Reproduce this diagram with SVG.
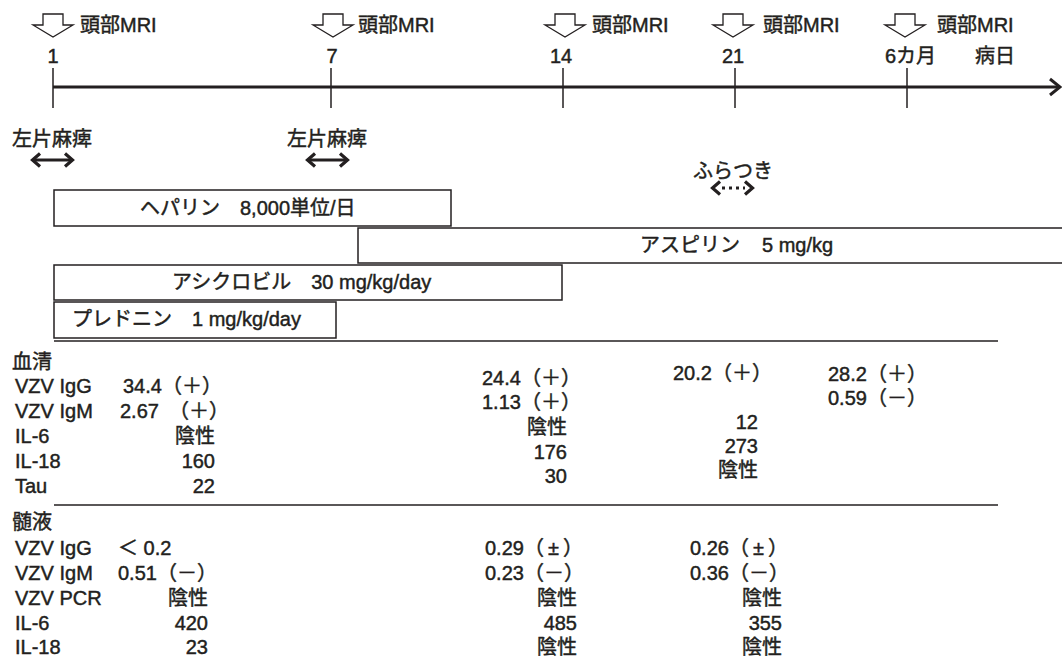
<svg xmlns="http://www.w3.org/2000/svg" width="1062" height="658" viewBox="0 0 1062 658">
<style>
text{font-family:"Liberation Sans","Noto Sans CJK JP",sans-serif;font-size:20px;fill:#231f20;stroke:#231f20;stroke-width:0.45px}
.r{text-anchor:end}
.m{text-anchor:middle}
.ln{stroke:#231f20;fill:none}
.box{fill:#fff;stroke:#231f20;stroke-width:1.5}
.mri{fill:#fff;stroke:#231f20;stroke-width:1.3;stroke-linejoin:miter}
.dbl{stroke:#231f20;stroke-width:3.2;fill:none;stroke-linecap:butt}
</style>
<defs>
<polygon id="mriArrow" class="mri" points="-10,0 10,0 10,11 20,11 0,23 -20,11 -10,11"/>
</defs>
<rect width="1062" height="658" fill="#fff"/>

<g id="connectors">
<line class="ln" x1="53" y1="87" x2="1059" y2="87" stroke-width="3"/>
<polyline class="ln" points="1050,79 1060,87 1050,95" stroke-width="3"/>
<line class="ln" x1="53" y1="68" x2="53" y2="108" stroke-width="1.5"/>
<line class="ln" x1="331" y1="68" x2="331" y2="108" stroke-width="1.5"/>
<line class="ln" x1="563" y1="68" x2="563" y2="108" stroke-width="1.5"/>
<line class="ln" x1="735" y1="68" x2="735" y2="108" stroke-width="1.5"/>
<line class="ln" x1="907" y1="68" x2="907" y2="108" stroke-width="1.5"/>
<line class="ln" x1="54" y1="341" x2="998" y2="341" stroke-width="1.5"/>
<line class="ln" x1="54" y1="505" x2="998" y2="505" stroke-width="1.5"/>
</g>

<g id="mri1"><use href="#mriArrow" x="53" y="14"/><text x="80" y="32">頭部MRI</text></g>
<g id="mri7"><use href="#mriArrow" x="333" y="14"/><text x="358" y="32">頭部MRI</text></g>
<g id="mri14"><use href="#mriArrow" x="565" y="14"/><text x="592" y="32">頭部MRI</text></g>
<g id="mri21"><use href="#mriArrow" x="733" y="14"/><text x="763" y="32">頭部MRI</text></g>
<g id="mri6m"><use href="#mriArrow" x="905" y="14"/><text x="937" y="32">頭部MRI</text></g>

<g id="daylabels">
<text class="m" x="53" y="63">1</text>
<text class="m" x="332" y="63">7</text>
<text class="m" x="561" y="63">14</text>
<text class="m" x="733" y="63">21</text>
<text x="885" y="63">6カ月</text>
<text x="975" y="63">病日</text>
</g>

<g id="hemi1">
<text x="12" y="146">左片麻痺</text>
<line class="dbl" x1="33" y1="160" x2="72" y2="160"/>
<polyline class="dbl" points="40,153.5 32.5,160 40,166.5"/>
<polyline class="dbl" points="65,153.5 72.5,160 65,166.5"/>
</g>
<g id="hemi2">
<text x="287" y="146">左片麻痺</text>
<line class="dbl" x1="308" y1="160" x2="347" y2="160"/>
<polyline class="dbl" points="315,153.5 307.5,160 315,166.5"/>
<polyline class="dbl" points="340,153.5 347.5,160 340,166.5"/>
</g>
<g id="wobble">
<text x="693" y="178">ふらつき</text>
<polyline class="dbl" points="720,181.5 712.5,188 720,194.5"/>
<polyline class="dbl" points="745,181.5 752.5,188 745,194.5"/>
<line class="dbl" x1="722" y1="188" x2="745" y2="188" stroke-dasharray="3 4"/>
</g>

<g id="heparin">
<rect class="box" x="54" y="190" width="397" height="36"/>
<text x="140" y="215">ヘパリン　8,000単位/日</text>
</g>
<g id="aspirin">
<rect class="box" x="358" y="228" width="720" height="35"/>
<text x="640" y="252">アスピリン<tspan dx="22">5 mg/kg</tspan></text>
</g>
<g id="acyclovir">
<rect class="box" x="54" y="265" width="508" height="35"/>
<text x="172" y="289">アシクロビル　30 mg/kg/day</text>
</g>
<g id="prednisolone">
<rect class="box" x="54" y="302" width="282" height="36"/>
<text x="72" y="326">プレドニン　1 mg/kg/day</text>
</g>

<g id="serum">
<text x="12" y="369">血清</text>
<text x="15" y="393">VZV IgG</text>
<text x="15" y="418">VZV IgM</text>
<text x="15" y="443">IL-6</text>
<text x="15" y="468">IL-18</text>
<text x="15" y="493">Tau</text>
<text x="123" y="393">34.4（＋）</text>
<text x="120" y="418">2.67　（＋）</text>
<text class="r" x="215" y="443">陰性</text>
<text class="r" x="215" y="468">160</text>
<text class="r" x="215" y="493">22</text>
<text x="482" y="385">24.4（＋）</text>
<text x="482" y="409">1.13（＋）</text>
<text class="r" x="567" y="434">陰性</text>
<text class="r" x="567" y="459">176</text>
<text class="r" x="567" y="483">30</text>
<text x="673" y="380">20.2（＋）</text>
<text class="r" x="758" y="429">12</text>
<text class="r" x="758" y="453">273</text>
<text class="r" x="758" y="477">陰性</text>
<text x="828" y="381">28.2（＋）</text>
<text x="828" y="405">0.59（－）</text>
</g>

<g id="csf">
<text x="12" y="529">髄液</text>
<text x="15" y="555">VZV IgG</text>
<text x="15" y="580">VZV IgM</text>
<text x="15" y="605">VZV PCR</text>
<text x="15" y="630">IL-6</text>
<text x="15" y="654">IL-18</text>
<text x="118" y="555">＜ 0.2</text>
<text x="118" y="580">0.51（－）</text>
<text class="r" x="208" y="605">陰性</text>
<text class="r" x="208" y="630">420</text>
<text class="r" x="208" y="654">23</text>
<text x="485" y="555">0.29（<tspan dx="4">±</tspan><tspan dx="4">）</tspan></text>
<text x="485" y="580">0.23（－）</text>
<text class="r" x="577" y="605">陰性</text>
<text class="r" x="577" y="630">485</text>
<text class="r" x="577" y="654">陰性</text>
<text x="690" y="555">0.26（<tspan dx="4">±</tspan><tspan dx="4">）</tspan></text>
<text x="690" y="580">0.36（－）</text>
<text class="r" x="782" y="605">陰性</text>
<text class="r" x="782" y="630">355</text>
<text class="r" x="782" y="654">陰性</text>
</g>
</svg>
